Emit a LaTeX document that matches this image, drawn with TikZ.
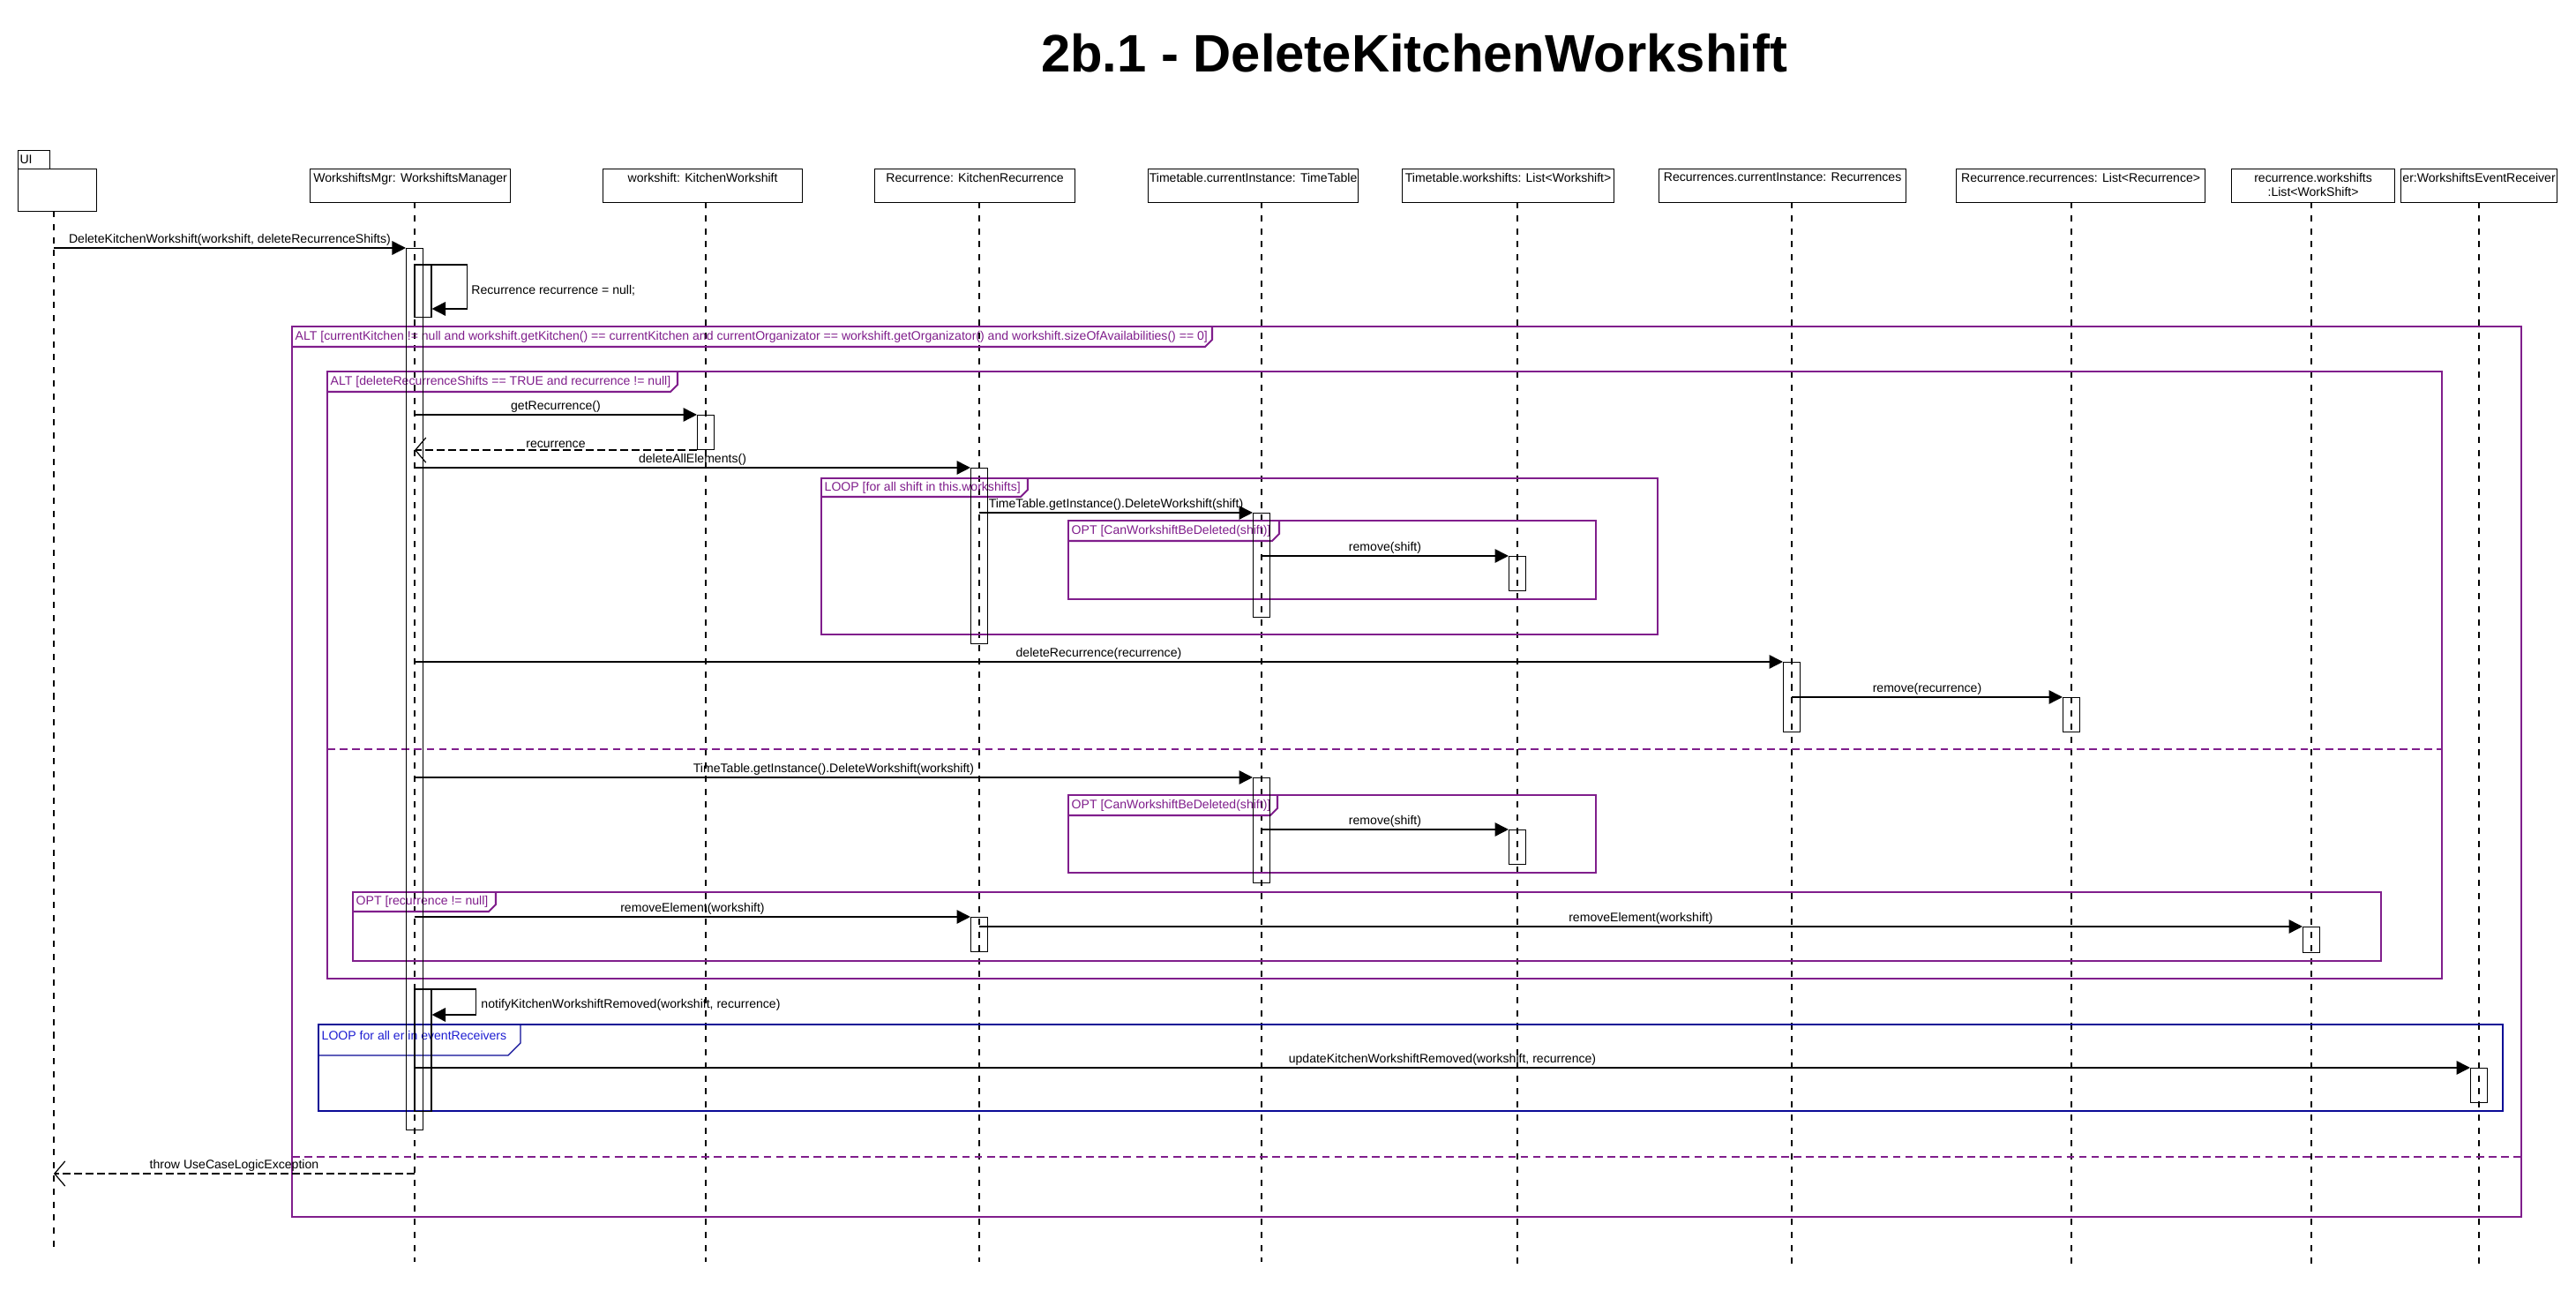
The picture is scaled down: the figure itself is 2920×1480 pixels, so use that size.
\documentclass[tikz,border=0pt]{standalone}
\usepackage{fontspec}
\setmainfont{Liberation Sans}
\usetikzlibrary{arrows.meta}

\definecolor{fragpurple}{RGB}{128,30,140}
\definecolor{fragblue}{RGB}{10,10,150}
\definecolor{fragbluetext}{RGB}{30,30,210}

\begin{document}
\begin{tikzpicture}
      [x=0.01cm,y=-0.01cm,
       every node/.style={font=\fontsize{4}{4.8}\selectfont,inner sep=0.5pt},
       lifebox/.style={draw,line width=0.3pt,minimum height=3.8mm,anchor=north west},
       lifelbl/.style={anchor=north,align=center,inner sep=1.2pt},
       lifeline/.style={line width=0.3pt,dash pattern=on 2pt off 2.2pt},
       actbar/.style={draw,line width=0.3pt,minimum width=1.9mm,anchor=north,inner sep=0pt},
       msg/.style={-{Triangle[length=4.4pt,width=4.4pt]},line width=0.45pt},
       reply/.style={-{Straight Barb[length=3.4pt,width=8pt]},line width=0.35pt,dash pattern=on 2.5pt off 1.2pt},
       mlbl/.style={midway,above,inner sep=0.6pt},
       altframe/.style={draw=fragpurple,line width=0.6pt},
       altsep/.style={draw=fragpurple,line width=0.6pt,dash pattern=on 2.5pt off 1.5pt},
       altlbl/.style={anchor=west,text=fragpurple,inner sep=0pt},
       loopframe/.style={draw=fragblue,line width=0.4pt},
       looplbl/.style={anchor=west,text=fragbluetext,inner sep=0pt}]
      \fill[white] (0,0) rectangle (2920,1480) ;
      \useasboundingbox (0,0) rectangle (2920,1480) ;
      \node[font=\fontsize{17}{20}\selectfont\bfseries] (title) at (1603,60) {2b.1 - DeleteKitchenWorkshift} ;
      % lifeline heads
      \node[lifebox,minimum width=3.6mm,minimum height=2.1mm,text width=3.2mm,align=left,inner xsep=0.2mm] (uiTab) at (20,170) {UI} ;
      \node[lifebox,minimum width=8.9mm,minimum height=4.8mm] (ui) at (20,191) {} ;
      \node[lifebox,minimum width=22.7mm,label={[lifelbl]north:{WorkshiftsMgr: WorkshiftsManager}}] (mgr) at (351,191) {} ;
      \node[lifebox,minimum width=22.6mm,label={[lifelbl]north:{workshift: KitchenWorkshift}}] (ws) at (683,191) {} ;
      \node[lifebox,minimum width=22.7mm,label={[lifelbl]north:{Recurrence: KitchenRecurrence}}] (rec) at (991,191) {} ;
      \node[lifebox,minimum width=23.8mm,label={[lifelbl]north:{Timetable.currentInstance: TimeTable}}] (tt) at (1301,191) {} ;
      \node[lifebox,minimum width=24.0mm,label={[lifelbl]north:{Timetable.workshifts: List<Workshift>}}] (tw) at (1589,191) {} ;
      \node[lifebox,minimum width=28.0mm,label={[lifelbl]north:{Recurrences.currentInstance: Recurrences}}] (rcs) at (1880,191) {} ;
      \node[lifebox,minimum width=28.2mm,label={[lifelbl]north:{Recurrence.recurrences: List<Recurrence>}}] (rr) at (2217,191) {} ;
      \node[lifebox,minimum width=18.5mm,label={[lifelbl]north:{recurrence.workshifts\\:List<WorkShift>}}] (rw) at (2529,191) {} ;
      \node[lifebox,minimum width=17.7mm,label={[lifelbl]north:{er:WorkshiftsEventReceiver}}] (er) at (2721,191) {} ;
      % lifelines
      \coordinate (uiLine) at (61,239) ;   \coordinate (uiEnd) at (61,1419) ;
      \coordinate (mgrLine) at (470,229) ; \coordinate (mgrEnd) at (470,1430) ;
      \coordinate (wsLine) at (800,229) ;  \coordinate (wsEnd) at (800,1430) ;
      \coordinate (recLine) at (1110,229) ; \coordinate (recEnd) at (1110,1430) ;
      \coordinate (ttLine) at (1430,229) ; \coordinate (ttEnd) at (1430,1430) ;
      \coordinate (twLine) at (1720,229) ; \coordinate (twEnd) at (1720,1439) ;
      \coordinate (rcsLine) at (2031,229) ; \coordinate (rcsEnd) at (2031,1439) ;
      \coordinate (rrLine) at (2348,229) ; \coordinate (rrEnd) at (2348,1439) ;
      \coordinate (rwLine) at (2620,229) ; \coordinate (rwEnd) at (2620,1439) ;
      \coordinate (erLine) at (2810,229) ; \coordinate (erEnd) at (2810,1439) ;
      \draw[lifeline] (uiLine) -- (uiEnd) ;
      \draw[lifeline] (mgrLine) -- (mgrEnd) ;
      \draw[lifeline] (wsLine) -- (wsEnd) ;
      \draw[lifeline] (recLine) -- (recEnd) ;
      \draw[lifeline] (ttLine) -- (ttEnd) ;
      \draw[lifeline] (twLine) -- (twEnd) ;
      \draw[lifeline] (rcsLine) -- (rcsEnd) ;
      \draw[lifeline] (rrLine) -- (rrEnd) ;
      \draw[lifeline] (rwLine) -- (rwEnd) ;
      \draw[lifeline] (erLine) -- (erEnd) ;
      % fragments
      \draw[altframe] (331,370) rectangle (2858,1379) ;
      \draw[altframe] (331,393) -- (1366,393) -- (1374,385) -- (1374,370) ;
      \node[altlbl] (altOuterLbl) at (334,381.5) {ALT [currentKitchen != null and workshift.getKitchen() == currentKitchen and currentOrganizator == workshift.getOrganizator() and workshift.sizeOfAvailabilities() == 0]} ;
      \draw[altsep] (331,1311) -- (2858,1311) ;
      \draw[altframe] (371,421) rectangle (2768,1109) ;
      \draw[altframe] (371,444) -- (760,444) -- (768,436) -- (768,421) ;
      \node[altlbl] (altInnerLbl) at (374,432.5) {ALT [deleteRecurrenceShifts == TRUE and recurrence != null]} ;
      \draw[altsep] (371,849) -- (2768,849) ;
      \draw[altframe] (931,542) rectangle (1879,719) ;
      \draw[altframe] (931,563) -- (1157,563) -- (1165,555) -- (1165,542) ;
      \node[altlbl] (loopShiftLbl) at (934,552.5) {LOOP [for all shift in this.workshifts]} ;
      \draw[altframe] (1211,590) rectangle (1809,679) ;
      \draw[altframe] (1211,613) -- (1442,613) -- (1450,605) -- (1450,590) ;
      \node[altlbl] (optDelALbl) at (1214,601.5) {OPT [CanWorkshiftBeDeleted(shift)]} ;
      \draw[altframe] (1211,901) rectangle (1809,989) ;
      \draw[altframe] (1211,924) -- (1440,924) -- (1448,916) -- (1448,901) ;
      \node[altlbl] (optDelBLbl) at (1214,912.5) {OPT [CanWorkshiftBeDeleted(shift)]} ;
      \draw[altframe] (400,1011) rectangle (2699,1089) ;
      \draw[altframe] (400,1033) -- (554,1033) -- (562,1025) -- (562,1011) ;
      \node[altlbl] (optRecLbl) at (403,1022) {OPT [recurrence != null]} ;
      \draw[loopframe] (361,1161) rectangle (2837,1259) ;
      \draw[loopframe] (361,1196) -- (576,1196) -- (590,1182) -- (590,1161) ;
      \node[looplbl] (loopErLbl) at (364,1173) {LOOP for all er in eventReceivers} ;
      % activations
      \node[actbar,minimum height=99.8mm] (mgrAct) at (470,281) {} ;
      \node[actbar,minimum height=5.9mm] (mgrSelfA) at (479.5,300) {} ;
      \node[actbar,minimum height=13.8mm] (mgrSelfB) at (479.5,1121) {} ;
      \node[actbar,minimum height=3.9mm] (wsAct) at (800,470) {} ;
      \node[actbar,minimum height=19.9mm] (recActA) at (1110,530) {} ;
      \node[actbar,minimum height=11.8mm] (ttActA) at (1430,581) {} ;
      \node[actbar,minimum height=3.9mm] (twActA) at (1720,630) {} ;
      \node[actbar,minimum height=7.9mm] (rcsAct) at (2031,750) {} ;
      \node[actbar,minimum height=3.9mm] (rrAct) at (2348,790) {} ;
      \node[actbar,minimum height=11.9mm] (ttActB) at (1430,881) {} ;
      \node[actbar,minimum height=3.9mm] (twActB) at (1720,940) {} ;
      \node[actbar,minimum height=3.9mm] (recActB) at (1110,1039) {} ;
      \node[actbar,minimum height=2.9mm] (rwAct) at (2620,1050) {} ;
      \node[actbar,minimum height=3.9mm] (erAct) at (2810,1210) {} ;
      % messages
      \draw[msg] (uiLine |- mgrAct.north) -- (mgrAct.north west) node[mlbl] {DeleteKitchenWorkshift(workshift, deleteRecurrenceShifts)} ;
      \draw[msg] (mgrSelfA.north west) -- ++(60,0) |- (mgrSelfA.east |- 0,350) ;
      \node[anchor=west] (selfLblA) at (532,329) {Recurrence recurrence = null;} ;
      \draw[msg] (mgrLine |- wsAct.north) -- (wsAct.north west) node[mlbl] {getRecurrence()} ;
      \draw[reply] (wsAct.south west) -- (mgrLine |- wsAct.south) node[mlbl] {recurrence} ;
      \draw[msg] (mgrLine |- recActA.north) -- (recActA.north west) node[mlbl] {deleteAllElements()} ;
      \draw[msg] (recLine |- ttActA.north) -- (ttActA.north west) node[mlbl] {TimeTable.getInstance().DeleteWorkshift(shift)} ;
      \draw[msg] (ttLine |- twActA.north) -- (twActA.north west) node[mlbl] {remove(shift)} ;
      \draw[msg] (mgrLine |- rcsAct.north) -- (rcsAct.north west) node[mlbl] {deleteRecurrence(recurrence)} ;
      \draw[msg] (rcsLine |- rrAct.north) -- (rrAct.north west) node[mlbl] {remove(recurrence)} ;
      \draw[msg] (mgrLine |- ttActB.north) -- (ttActB.north west) node[mlbl] {TimeTable.getInstance().DeleteWorkshift(workshift)} ;
      \draw[msg] (ttLine |- twActB.north) -- (twActB.north west) node[mlbl] {remove(shift)} ;
      \draw[msg] (mgrLine |- recActB.north) -- (recActB.north west) node[mlbl] {removeElement(workshift)} ;
      \draw[msg] (recLine |- rwAct.north) -- (rwAct.north west) node[mlbl] {removeElement(workshift)} ;
      \draw[msg] (mgrSelfB.north west) -- ++(70,0) |- (mgrSelfB.east |- 0,1150) ;
      \node[anchor=west] (selfLblB) at (543,1139) {notifyKitchenWorkshiftRemoved(workshift, recurrence)} ;
      \draw[msg] (mgrLine |- erAct.north) -- (erAct.north west) node[mlbl] {updateKitchenWorkshiftRemoved(workshift, recurrence)} ;
      \draw[reply] (mgrLine |- 0,1330) -- (uiLine |- 0,1330) node[mlbl] {throw UseCaseLogicException} ;
    \end{tikzpicture}
\end{document}
